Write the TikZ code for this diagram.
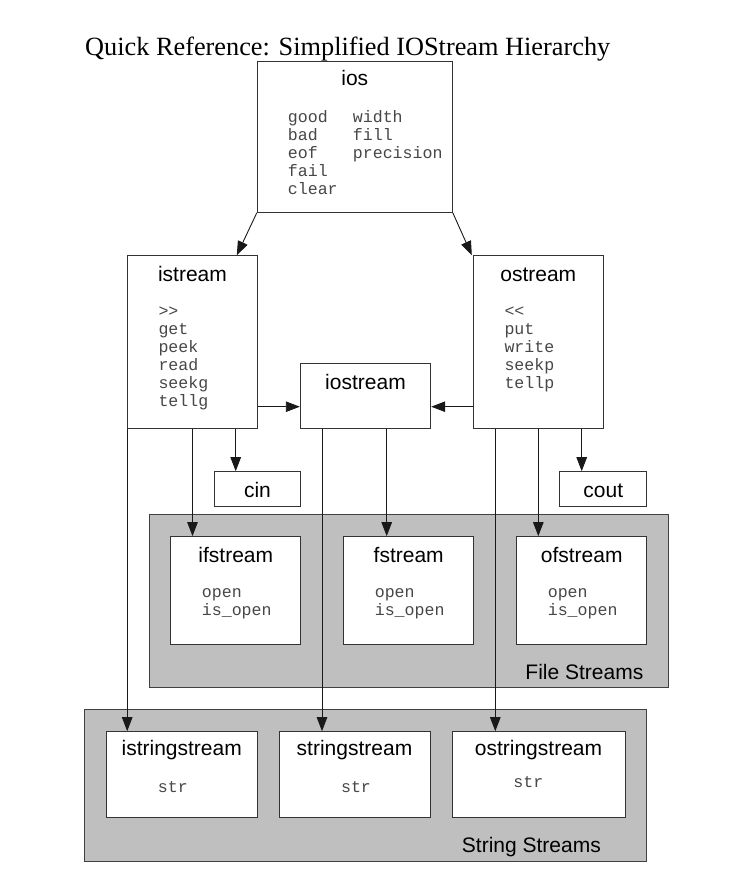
\documentclass[tikz,border=0pt]{standalone}
\usepackage{fontspec}
\setmainfont{Liberation Serif}
\setsansfont{Liberation Sans}
\setmonofont{Liberation Mono}
\usetikzlibrary{arrows.meta}

\begin{document}
\begin{tikzpicture}[x=1pt,y=-1pt,font=\sffamily,text=black,
  box/.style={draw=black!80,fill=white,line width=1pt,inner sep=0pt},
  group/.style={draw=black!75,fill=black!25,line width=1pt,inner sep=0pt},
  flow/.style={-{Triangle[length=14pt,width=10.5pt]},line width=.9pt,draw=black!90},
  heading/.style={font=\rmfamily\fontsize{26.3}{30}\selectfont,inner sep=0pt},
  classname/.style={font=\sffamily\fontsize{21}{24}\selectfont,inner sep=0pt},
  member/.style={font=\ttfamily\fontsize{16.6}{18}\selectfont,text=black!72,inner sep=0pt},
  grouplabel/.style={font=\sffamily\fontsize{21}{24}\selectfont,inner sep=0pt}]
\useasboundingbox (0,0) rectangle (732,893);
\fill[white] (0,0) rectangle (732,893);

\node[heading,anchor=base west] (title) at (85,55.6) {Quick Reference: Simplified IOStream Hierarchy};

% GROUPS
\node[group,minimum width=519.4,minimum height=172.7] (filegrp) at (409,601.3) {};
\node[grouplabel,anchor=base east] (filegrp-t) at (643.5,679) {File Streams};
\node[group,minimum width=561.7,minimum height=151.7] (stringgrp) at (365.2,785.2) {};
\node[grouplabel,anchor=base east] (stringgrp-t) at (601,852) {String Streams};

% BASE CLASSES
\node[box,minimum width=195,minimum height=150.6] (ios) at (354.8,137) {};
\node[classname,anchor=base] (ios-t) at (354.8,86) {ios};
\foreach \m [count=\i from 0] in {good,bad,eof,fail,clear}
  \node[member,anchor=base west] (ios-a\i) at (287.7,122.3+18*\i) {\m};
\foreach \m [count=\i from 0] in {width,fill,precision}
  \node[member,anchor=base west] (ios-b\i) at (352.7,122.3+18*\i) {\m};

\node[box,minimum width=129.6,minimum height=172.6] (istream) at (192.5,342) {};
\node[classname,anchor=base] (istream-t) at (192.5,281) {istream};
\foreach \m [count=\i from 0] in {>>,get,peek,read,seekg,tellg}
  \node[member,anchor=base west] (istream-m\i) at (158.3,316.7+18*\i) {\m};

\node[box,minimum width=130,minimum height=172.6] (ostream) at (538.3,342) {};
\node[classname,anchor=base] (ostream-t) at (538.3,281) {ostream};
\foreach \m [count=\i from 0] in {<<,put,write,seekp,tellp}
  \node[member,anchor=base west] (ostream-m\i) at (504.3,316.7+18*\i) {\m};

\node[box,minimum width=130.4,minimum height=64.6] (iostream) at (365.5,396) {};
\node[classname,anchor=base] (iostream-t) at (365.5,389) {iostream};

\node[box,minimum width=86.4,minimum height=35] (cin) at (257.5,489.2) {};
\node[classname,anchor=base] (cin-t) at (257.5,497) {cin};
\node[box,minimum width=86.7,minimum height=35] (cout) at (603.3,489.2) {};
\node[classname,anchor=base] (cout-t) at (603.3,497) {cout};

% FILE STREAMS
\foreach \c/\x in {ifstream/235.8,fstream/408.7,ofstream/581.7}{
  \node[box,minimum width=129.7,minimum height=108.3] (\c) at (\x,590.8) {};
  \node[classname,anchor=base] (\c-t) at (\x,562) {\c};
  \node[member,anchor=base west] (\c-m0) at (\x-34.1,597.7) {open};
  \node[member,anchor=base west] (\c-m1) at (\x-34.1,615.7) {is\_open};
}

% STRING STREAMS
\node[box,minimum width=151.3,minimum height=85.6] (istringstream) at (181.7,774.5) {};
\node[classname,anchor=base] (istringstream-t) at (181.7,755) {istringstream};
\node[member,anchor=base] (istringstream-m) at (172.8,792.3) {str};
\node[box,minimum width=151,minimum height=85.6] (stringstream) at (354.5,774.5) {};
\node[classname,anchor=base] (stringstream-t) at (354.5,755) {stringstream};
\node[member,anchor=base] (stringstream-m) at (356,792.3) {str};
\node[box,minimum width=173,minimum height=85.6] (ostringstream) at (538.5,774.5) {};
\node[classname,anchor=base] (ostringstream-t) at (538.5,755) {ostringstream};
\node[member,anchor=base] (ostringstream-m) at (528.3,787.3) {str};

% INHERITANCE
\draw[flow] (ios.south west) -- ([xshift=-21]istream.north east);
\draw[flow] (ios.south east) -- ([xshift=-1]ostream.north west);
\coordinate (io-in) at ([yshift=-10.7]iostream.west);
\coordinate (io-out) at ([yshift=-10.7]iostream.east);
\draw[flow] (io-in -| istream.east) -- (io-in);
\draw[flow] (io-out -| ostream.west) -- (io-out);

\coordinate (is-cin) at ([xshift=43.2]istream.south);
\coordinate (os-cout) at ([xshift=43.4]ostream.south);
\draw[flow] (is-cin) -- (is-cin |- cin.north);
\draw[flow] (os-cout) -- (os-cout |- cout.north);

\draw[flow] (istream.south) -- (istream.south |- ifstream.north);
\draw[flow] (ostream.south) -- (ostream.south |- ofstream.north);
\coordinate (ios-f) at ([xshift=21.2]iostream.south);
\draw[flow] (ios-f) -- (ios-f |- fstream.north);

\draw[flow] (istream.south west) -- (istream.south west |- istringstream.north);
\coordinate (ios-s) at ([xshift=-43.5]iostream.south);
\draw[flow] (ios-s) -- (ios-s |- stringstream.north);
\coordinate (os-s) at ([xshift=-43]ostream.south);
\draw[flow] (os-s) -- (os-s |- ostringstream.north);
\end{tikzpicture}
\end{document}
